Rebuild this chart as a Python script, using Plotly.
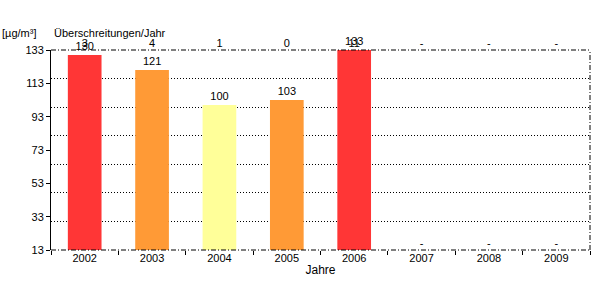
import plotly.graph_objects as go

years = ["2002", "2003", "2004", "2005", "2006", "2007", "2008", "2009"]
values = [130, 121, 100, 103, 133, None, None, None]
exceed = ["3", "4", "1", "0", "11", "-", "-", "-"]
y_ticks = [13, 33, 53, 73, 93, 113, 133]

bar_colors = ["#FF3636", "#FF9A36", "#FFFF99", "#FF9A36", "#FF3636", "#FFFFFF", "#FFFFFF", "#FFFFFF"]
font = dict(family="Liberation Sans, Arial, sans-serif", size=11, color="black")
ymin, ymax = y_ticks[0], y_ticks[-1]

fig = go.Figure()
fig.add_trace(go.Bar(
    x=years, y=[v - ymin if v is not None else None for v in values],
    base=ymin,
    marker=dict(color=bar_colors, line=dict(width=0)),
    width=0.5,
    text=[str(v) if v is not None else "" for v in values],
    textposition="outside", textfont=font, cliponaxis=False,
))

# "-" for missing values at bottom
miss_x = [y for y, v in zip(years, values) if v is None]
fig.add_trace(go.Scatter(
    x=miss_x, y=[ymin] * len(miss_x), mode="text", text=["-"] * len(miss_x),
    textposition="top center", textfont=font, cliponaxis=False,
))
# exceedances above plot
fig.add_trace(go.Scatter(
    x=years, y=[ymax] * len(years), mode="text", text=exceed,
    textposition="top center", textfont=font, cliponaxis=False,
))
# overlay axis for dotted gridlines (7 bands)
fig.add_trace(go.Scatter(x=[years[0]], y=[0], yaxis="y2", mode="markers",
                         marker=dict(opacity=0), hoverinfo="skip"))

fig.update_layout(
    width=600, height=300,
    margin=dict(l=51, r=10, t=50, b=50),
    plot_bgcolor="white", paper_bgcolor="white",
    showlegend=False, font=font,
    xaxis=dict(type="category", tickson="boundaries", ticks="outside", ticklen=4,
               tickcolor="black", showline=False, showgrid=False, zeroline=False,
               title=dict(text="Jahre", font=dict(size=12), standoff=2),
               tickfont=font),
    yaxis=dict(range=[ymin, ymax], tickvals=y_ticks, ticks="outside", ticklen=4,
               tickcolor="black", showline=True, linecolor="black", linewidth=1,
               showgrid=False, zeroline=False, tickfont=font),
    yaxis2=dict(overlaying="y", range=[0, 7], dtick=1, showticklabels=False,
                showgrid=True, gridcolor="black", griddash="1px,2px", gridwidth=1,
                zeroline=False, showline=False),
)
# dash-dot frame lines (top, bottom, right)
for x0, y0, x1, y1 in [(0, 1, 1, 1), (0, 0, 1, 0), (1, 0, 1, 1)]:
    fig.add_shape(type="line", xref="paper", yref="paper", x0=x0, y0=y0, x1=x1, y1=y1,
                  line=dict(color="black", width=1, dash="5px,2px,1px,2px"))

fig.add_annotation(text="[µg/m³]", xref="paper", yref="paper", x=-51/539, y=1 + 17/200,
                   xanchor="left", yanchor="middle", showarrow=False, font=font)
fig.add_annotation(text="Überschreitungen/Jahr", xref="paper", yref="paper", x=1/539, y=1 + 17/200,
                   xanchor="left", yanchor="middle", showarrow=False, font=font)

fig.write_html("out.html")
